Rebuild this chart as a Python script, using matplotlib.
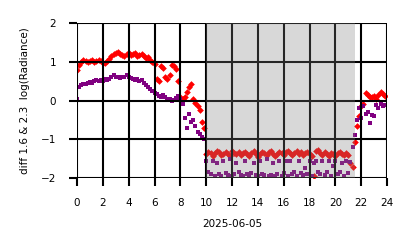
import numpy as np
import matplotlib
matplotlib.use('Agg')
import matplotlib.pyplot as plt

# sample times, 10 min spacing over the day (hours)
hours = np.arange(0, 24, 1/6)

# diff 1.6 & 2.3 log(Radiance), red series (6 values per hour)
red_vals = [
    0.78, 0.92, 1.00, 1.05, 1.02, 1.00,
    1.03, 1.05, 1.00, 1.02, 1.05, 1.03,
    0.98, 0.97, 1.02, 1.08, 1.15, 1.20,
    1.22, 1.25, 1.20, 1.18, 1.15, 1.20,
    1.22, 1.18, 1.20, 1.22, 1.15, 1.18,
    1.20, 1.15, 1.10, 1.12, 1.05, 1.00,
    0.95, 0.55, 0.50, 0.88, 0.85, 0.62,
    0.55, 0.65, 0.92, 0.88, 0.82, 0.50,
    0.08, 0.05, 0.10, 0.22, 0.35, 0.42,
    0.05, -0.05, -0.15, -0.25, -0.55, -0.70,
    -1.38, -1.32, -1.35, -1.42, -1.36, -1.30,
    -1.33, -1.40, -1.37, -1.32, -1.38, -1.42,
    -1.30, -1.35, -1.38, -1.33, -1.40, -1.36,
    -1.32, -1.38, -1.42, -1.35, -1.30, -1.37,
    -1.45, -1.38, -1.33, -1.36, -1.40, -1.34,
    -1.30, -1.37, -1.42, -1.38, -1.32, -1.35,
    -1.40, -1.33, -1.30, -1.36, -1.40, -1.35,
    -1.31, -1.37, -1.34, -1.40, -1.36, -1.32,
    -1.38, -1.42, -1.95, -1.30, -1.28, -1.35,
    -1.40, -1.33, -1.37, -1.42, -1.36, -1.38,
    -1.43, -1.35, -1.32, -1.37, -1.40, -1.36,
    -1.40, -1.62, -1.72, -1.08, -0.65, -0.40,
    -0.15, -0.10, 0.20, 0.15, 0.10, 0.08,
    0.12, 0.05, 0.15, 0.22, 0.18, 0.12,
]

# purple series
purple_vals = [
    0.05, 0.35, 0.40, 0.43, 0.42, 0.45,
    0.48, 0.45, 0.50, 0.53, 0.50, 0.52,
    0.50, 0.55, 0.52, 0.55, 0.60, 0.65,
    0.62, 0.60, 0.58, 0.60, 0.62, 0.65,
    0.60, 0.58, 0.55, 0.53, 0.55, 0.50,
    0.52, 0.45, 0.40, 0.35, 0.30, 0.25,
    0.20, 0.17, 0.12, 0.10, 0.15, 0.08,
    0.03, 0.05, 0.00, 0.02, 0.06, 0.12,
    0.05, -0.10, -0.45, -0.70, -0.35, -0.55,
    -0.50, -0.65, -0.80, -0.85, -0.95, -1.00,
    -1.55, -1.85, -1.90, -1.55, -1.95, -1.60,
    -1.90, -1.95, -1.55, -1.88, -1.92, -1.50,
    -1.95, -1.90, -1.60, -1.85, -1.93, -1.95,
    -1.55, -1.90, -1.95, -1.88, -1.62, -1.92,
    -1.95, -1.55, -1.90, -1.93, -1.50, -1.95,
    -1.92, -1.60, -1.95, -1.90, -1.55, -1.95,
    -1.88, -1.55, -1.95, -1.55, -1.90, -1.85,
    -1.95, -1.55, -1.88, -1.92, -1.75, -1.90,
    -1.55, -1.95, -1.60, -1.55, -1.85, -1.90,
    -1.57, -1.92, -1.85, -1.55, -1.95, -1.68,
    -1.55, -1.90, -1.85, -1.60, -1.95, -1.55,
    -1.88, -1.58, -1.20, -0.90, -0.50, -0.20,
    -0.45, -0.13, -0.35, -0.30, -0.57, -0.38,
    -0.40, -0.12, -0.18, -0.10, -0.15, -0.12,
]

shade_start, shade_end = 10.0, 21.5
xticks = np.arange(0, 25, 2)
yticks = [-2, -1, 0, 1, 2]

fig = plt.figure(figsize=(4.14, 2.48), dpi=100)
ax = fig.add_axes([0.186, 0.282, 0.749, 0.625])

ax.plot(hours, red_vals, 'D', color='red', ms=3.4, mew=0, zorder=2)
ax.plot(hours, purple_vals, 's', color='purple', ms=3.0, mew=0, zorder=2.1)
ax.axvspan(shade_start, shade_end, color='gray', alpha=0.3, lw=0, zorder=3)

ax.set_xlim(0, 24)
ax.set_ylim(-2, 2)
ax.set_xticks(xticks)
ax.set_yticks(yticks)
ax.grid(True, color='black', lw=1.5, zorder=4)
ax.set_axisbelow(False)
for s in ax.spines.values():
    s.set_visible(False)
ax.tick_params(length=6, width=1.5, labelsize=7.5)
ax.tick_params(axis='x', pad=8)
ax.tick_params(axis='y', pad=9)
ax.set_xlabel('2025-06-05', fontsize=7.5, labelpad=8)
ax.set_ylabel('diff 1.6 & 2.3  log(Radiance)', fontsize=7.5, labelpad=8)

plt.savefig('out.png', dpi=100)
